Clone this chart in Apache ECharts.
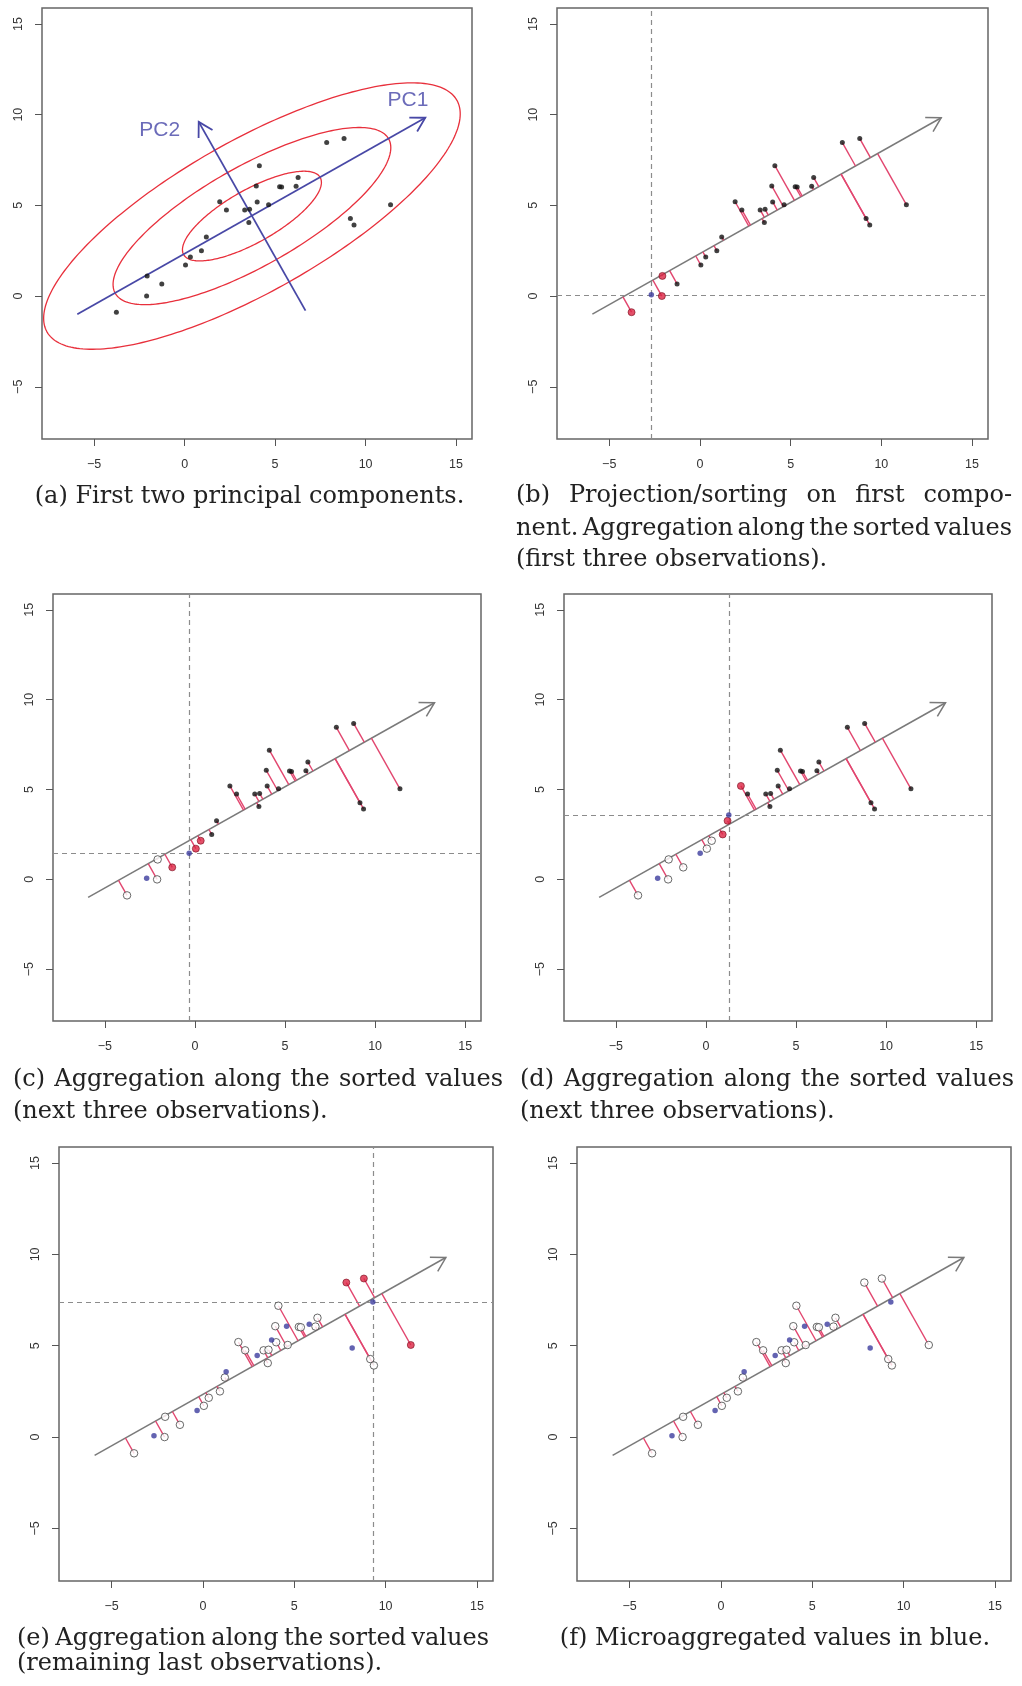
<!DOCTYPE html>
<html><head><meta charset="utf-8">
<script src="https://cdn.jsdelivr.net/npm/echarts@6.0.0/dist/echarts.min.js"></script>
<style>html,body{margin:0;padding:0;background:#fff}#c{width:1022px;height:1686px}</style>
</head><body><div id="c"></div><script>
// ---------------- data ----------------
const obsX = [-3.77,-2.10,-2.07,-1.26,0.05,0.32,0.93,1.20,1.94,2.31,3.32,3.59,3.55,4.01,3.96,4.13,4.64,5.25,5.36,6.16,6.27,7.85,8.81,11.38,9.16,9.36];
const obsY = [-0.89,0.00,1.11,0.67,1.71,2.15,2.50,3.26,5.20,4.75,4.75,4.78,4.05,5.19,6.07,7.19,5.04,6.03,6.01,6.05,6.53,8.46,8.68,5.04,4.27,3.92];
// microaggregated (blue) values
const meanX = [-2.68,-0.32,1.27,2.97,3.76,4.58,5.82,8.17,9.30];
const meanY = [0.07,1.45,3.58,4.47,5.31,6.06,6.17,4.87,7.40];
// observation indices of the groups highlighted in the panels
const group1 = [0,1,2];
const group2 = [3,4,5];
const group3 = [6,7,8];
const groupLast = [21,22,23];
// principal component axes (start -> arrow tip)
const pc1Start = [-5.93,-1.00], pc1End = [13.30,9.83];
const pc2Start = [6.68,-0.80],  pc2End = [0.78,9.60];
const pcLabels = [[12.34,10.80,'PC1'],[-1.38,9.15,'PC2']];
// ellipses: centre, semi-axes, angle (deg)
const ellCenter = [3.72,4.41];
const ellMajor = [4.33,8.67,13.0];
const ellMinor = [1.45,2.75,4.17];
const ellAngle = 29.4;
// axes
const axisMin = -7.88, axisMax = 15.88;
const tickValues = [-5,0,5,10,15];

const captions = {
  a: ['(a) First two principal components.'],
  b: ['(b) Projection/sorting on first compo-','nent. Aggregation along the sorted values','(first three observations).'],
  c: ['(c) Aggregation along the sorted values','(next three observations).'],
  d: ['(d) Aggregation along the sorted values','(next three observations).'],
  e: ['(e) Aggregation along the sorted values','(remaining last observations).'],
  f: ['(f) Microaggregated values in blue.']
};

// ---------------- layout ----------------
const grids = [
  {left:42, top:8,   width:430, height:431},
  {left:557,top:8,   width:431, height:431},
  {left:53, top:594, width:428, height:427},
  {left:564,top:594, width:428, height:427},
  {left:59, top:1147,width:434, height:434},
  {left:577,top:1147,width:434, height:434}
];
const RED = '#dc2444', BLUE = '#3c3c9e', SEG = '#e2466f', GRAYLINE = '#7a7a7a', PCBLUE = '#4848a6';

const all = obsX.map((_,i)=>i);
const states = [
  null,
  {red:group1, hollow:[], means:[0], cross:0},
  {red:group2, hollow:group1, means:[0,1], cross:1},
  {red:group3, hollow:group1.concat(group2), means:[0,1,2], cross:2},
  {red:groupLast, hollow:all.filter(i=>groupLast.indexOf(i)<0), means:all.slice(0,9), cross:8},
  {red:[], hollow:all, means:all.slice(0,9), cross:null}
];

function foot(x,y){
  const dx=pc1End[0]-pc1Start[0], dy=pc1End[1]-pc1Start[1];
  const t=((x-pc1Start[0])*dx+(y-pc1Start[1])*dy)/(dx*dx+dy*dy);
  return [pc1Start[0]+t*dx, pc1Start[1]+t*dy];
}
function arrowRenderer(color,width){
  return function(params, api){
    const p0 = api.coord([api.value(0), api.value(1)]);
    const p1 = api.coord([api.value(2), api.value(3)]);
    const ang = Math.atan2(p1[1]-p0[1], p1[0]-p0[0]);
    const L = 16, s = Math.PI/6;
    const a1 = [p1[0]-L*Math.cos(ang-s), p1[1]-L*Math.sin(ang-s)];
    const a2 = [p1[0]-L*Math.cos(ang+s), p1[1]-L*Math.sin(ang+s)];
    const style = {stroke:color, lineWidth:width, fill:null};
    return {type:'group', children:[
      {type:'line', shape:{x1:p0[0],y1:p0[1],x2:p1[0],y2:p1[1]}, style:style},
      {type:'polyline', shape:{points:[a1,p1,a2]}, style:style}
    ]};
  };
}
function segRender(params, api){
  const p0 = api.coord([api.value(0), api.value(1)]);
  const p1 = api.coord([api.value(2), api.value(3)]);
  return {type:'line', shape:{x1:p0[0],y1:p0[1],x2:p1[0],y2:p1[1]}, style:{stroke:SEG, lineWidth:1.4}};
}
function ellipseRender(params, api){
  const cx=api.value(0), cy=api.value(1), a=api.value(2), b=api.value(3), th=api.value(4)*Math.PI/180;
  const pts=[];
  for(let k=0;k<=240;k++){
    const t=k/240*2*Math.PI;
    pts.push(api.coord([cx+a*Math.cos(th)*Math.cos(t)-b*Math.sin(th)*Math.sin(t),
                        cy+a*Math.sin(th)*Math.cos(t)+b*Math.cos(th)*Math.sin(t)]));
  }
  return {type:'polyline', shape:{points:pts}, style:{stroke:'#e8303c', lineWidth:1.3, fill:null}};
}

const xAxes=[], yAxes=[], series=[];
const fmt = v => v<0 ? '\u2212'+Math.abs(v) : String(v);
grids.forEach((g,i)=>{
  const common = {type:'value', gridIndex:i, min:axisMin, max:axisMax,
    axisLine:{show:false, onZero:false}, splitLine:{show:false},
    axisTick:{show:true, inside:false, length:7, customValues:tickValues, lineStyle:{color:'#555', width:1}},
    axisLabel:{customValues:tickValues, formatter:fmt, color:'#333', fontSize:12.5, fontFamily:'Liberation Sans'}};
  xAxes.push(Object.assign({}, common, {position:'bottom', axisLabel:Object.assign({}, common.axisLabel, {margin:19})}));
  yAxes.push(Object.assign({}, common, {position:'left', axisLabel:Object.assign({}, common.axisLabel, {margin:17, rotate:90})}));
});

// panel (a)
series.push({type:'custom', xAxisIndex:0, yAxisIndex:0, renderItem:ellipseRender, z:2, silent:true,
  data: ellMajor.map((a,k)=>[ellCenter[0],ellCenter[1],a,ellMinor[k],ellAngle])});
series.push({type:'custom', xAxisIndex:0, yAxisIndex:0, renderItem:arrowRenderer(PCBLUE,1.8), z:3, silent:true,
  data:[[pc1Start[0],pc1Start[1],pc1End[0],pc1End[1]],[pc2Start[0],pc2Start[1],pc2End[0],pc2End[1]]]});
series.push({type:'scatter', xAxisIndex:0, yAxisIndex:0, symbolSize:5, z:5, silent:true,
  itemStyle:{color:'#111'}, data: obsX.map((x,i)=>[x,obsY[i]])});
series.push({type:'scatter', xAxisIndex:0, yAxisIndex:0, symbolSize:1, z:6, silent:true,
  itemStyle:{color:'rgba(0,0,0,0)'},
  label:{show:true, position:'inside', formatter:p=>p.value[2], color:'#4646a8', fontSize:21, fontFamily:'Liberation Sans'},
  data: pcLabels});

// panels (b)-(f)
for(let i=1;i<6;i++){
  const st = states[i];
  series.push({type:'custom', xAxisIndex:i, yAxisIndex:i, renderItem:arrowRenderer(GRAYLINE,1.5), z:3, silent:true,
    data:[[pc1Start[0],pc1Start[1],pc1End[0],pc1End[1]]]});
  series.push({type:'custom', xAxisIndex:i, yAxisIndex:i, renderItem:segRender, z:4, silent:true,
    data: obsX.map((x,k)=>{const f=foot(x,obsY[k]); return [x,obsY[k],f[0],f[1]];})});
  const black = all.filter(k=>st.red.indexOf(k)<0 && st.hollow.indexOf(k)<0);
  series.push({type:'scatter', xAxisIndex:i, yAxisIndex:i, symbolSize:5, z:5, silent:true,
    itemStyle:{color:'#111'}, data: black.map(k=>[obsX[k],obsY[k]])});
  series.push({type:'scatter', xAxisIndex:i, yAxisIndex:i, symbolSize:7.5, z:5, silent:true,
    itemStyle:{color:'#fff', borderColor:'#444', borderWidth:1}, data: st.hollow.map(k=>[obsX[k],obsY[k]])});
  series.push({type:'scatter', xAxisIndex:i, yAxisIndex:i, symbolSize:7, z:6, silent:true,
    itemStyle:{color:RED, borderColor:'#7a1020', borderWidth:0.8}, data: st.red.map(k=>[obsX[k],obsY[k]])});
  const ms = {type:'scatter', xAxisIndex:i, yAxisIndex:i, symbolSize:5.5, z:7, silent:true,
    itemStyle:{color:BLUE}, data: st.means.map(k=>[meanX[k],meanY[k]])};
  if(st.cross!==null){
    ms.markLine = {silent:true, symbol:'none', animation:false, label:{show:false},
      lineStyle:{type:[5,4], color:'#8c8c8c', width:1.2},
      data:[{xAxis:meanX[st.cross]},{yAxis:meanY[st.cross]}]};
  }
  series.push(ms);
}

// ---------------- captions ----------------
const capFont = '"DejaVu Serif"', capSize = 24, capColor = '#222';
const mctx = document.createElement('canvas').getContext('2d');
mctx.font = capSize+'px '+capFont;
function textEl(t,x,y,align){
  return {type:'text', x:x, y:y, silent:true,
    style:{text:t, fontFamily:'DejaVu Serif', fontSize:capSize, fill:capColor, align:align||'left', verticalAlign:'middle',
      textAlign:align||'left', textVerticalAlign:'middle'}};
}
function justified(t,x0,x1,y){
  const words=t.split(' ');
  const widths=words.map(w=>mctx.measureText(w).width);
  const total=widths.reduce((s,w)=>s+w,0);
  const gap=(x1-x0-total)/(words.length-1);
  const els=[]; let x=x0;
  words.forEach((w,k)=>{els.push(textEl(w,x,y)); x+=widths[k]+gap;});
  return els;
}
const gEls = [];
gEls.push(textEl(captions.a[0],249.5,497,'center'));
gEls.push(...justified(captions.b[0],516,1012,495.5));
gEls.push(...justified(captions.b[1],516,1012,529));
gEls.push(textEl(captions.b[2],516,560));
gEls.push(...justified(captions.c[0],13,503,1080));
gEls.push(textEl(captions.c[1],13,1112));
gEls.push(...justified(captions.d[0],520,1014,1080));
gEls.push(textEl(captions.d[1],520,1112));
gEls.push(...justified(captions.e[0],17,489,1639));
gEls.push(textEl(captions.e[1],17,1664));
gEls.push(textEl(captions.f[0],775,1639,'center'));

const chart = echarts.init(document.getElementById('c'), null, {renderer:'canvas'});
chart.setOption({
  animation:false,
  backgroundColor:'#fff',
  grid: grids.map(g=>Object.assign({show:true, borderColor:'#666', borderWidth:1.5, backgroundColor:'transparent', containLabel:false}, g)),
  xAxis:xAxes, yAxis:yAxes, series:series,
  graphic:{elements:gEls}
});
</script></body></html>
